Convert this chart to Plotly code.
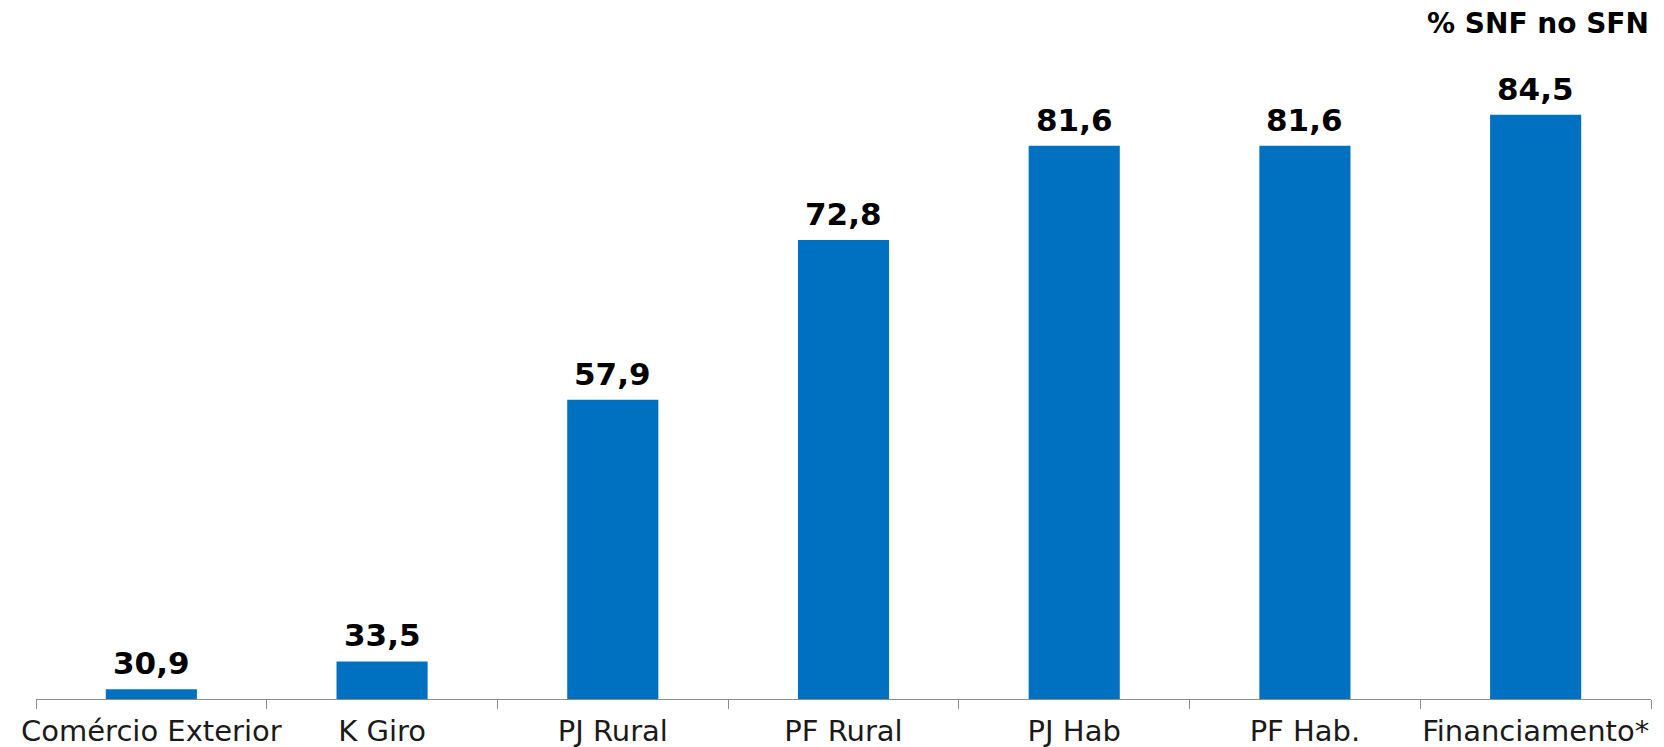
import plotly.graph_objects as go

categories = ["Comércio Exterior", "K Giro", "PJ Rural", "PF Rural", "PJ Hab", "PF Hab.", "Financiamento*"]
values = [30.9, 33.5, 57.9, 72.8, 81.6, 81.6, 84.5]
value_labels = ["30,9", "33,5", "57,9", "72,8", "81,6", "81,6", "84,5"]

BAR_COLOR = "#0070C0"

fig = go.Figure(
    go.Bar(
        x=categories,
        y=values,
        marker=dict(color=BAR_COLOR, line=dict(width=0)),
        width=0.395,
        hoverinfo="x+y",
    )
)

# value labels sit a little above each bar top
label_annotations = [
    dict(
        x=cat, y=val, xref="x", yref="y",
        text=lab, showarrow=False,
        xanchor="center", yanchor="bottom", yshift=6,
        font=dict(family="DejaVu Sans", size=31, color="#000000", weight="bold"),
    )
    for cat, val, lab in zip(categories, values, value_labels)
]

fig.update_layout(
    width=1664,
    height=747,
    margin=dict(l=36, r=13, t=60, b=48, autoexpand=False),
    plot_bgcolor="white",
    paper_bgcolor="white",
    showlegend=False,
    annotations=label_annotations + [
        dict(
            text="% SNF no SFN",
            xref="paper", yref="paper",
            x=1.0, y=1.0, yshift=60 - 23,
            xanchor="right", yanchor="middle",
            showarrow=False,
            font=dict(family="DejaVu Sans", size=28, color="#000000", weight="bold"),
        )
    ],
)

fig.update_xaxes(
    type="category",
    showline=True,
    linecolor="#8c8c8c",
    linewidth=1,
    ticks="outside",
    tickson="boundaries",
    ticklen=9,
    tickcolor="#8c8c8c",
    tickangle=0,
    automargin=False,
    ticklabelstandoff=6,
    tickfont=dict(family="DejaVu Sans", size=29, color="#1a1a1a"),
    showgrid=False,
)
# value axis starts at 30 so the bars show the part above that level
fig.update_yaxes(
    range=[30, 89.6],
    visible=False,
    showgrid=False,
    automargin=False,
)

fig.write_html("out.html")
